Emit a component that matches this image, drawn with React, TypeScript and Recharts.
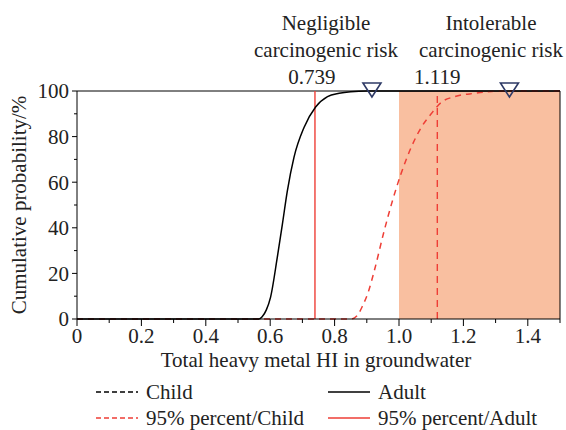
import React from 'react';
import { ComposedChart, Line, Scatter, XAxis, YAxis, ReferenceLine, ReferenceArea } from 'recharts';

// Adult cumulative curve (HI vs %)
const adultHI = [0, 0.5, 0.565, 0.575, 0.588, 0.601, 0.622, 0.638, 0.653, 0.674, 0.705, 0.741, 0.778, 0.814, 0.85, 0.9, 1.5];
const adultProb = [0, 0, 0, 1, 4, 9.5, 27, 41.7, 56, 71, 84, 93, 97.5, 99, 99.7, 100, 100];

// Child cumulative curve
const childHI = [0, 0.8, 0.85, 0.87, 0.887, 0.905, 0.923, 0.954, 0.98, 1.006, 1.037, 1.069, 1.1, 1.131, 1.172, 1.235, 1.287, 1.35, 1.5];
const childProb = [0, 0, 0, 1.5, 5.8, 12, 21, 38.7, 52, 63.6, 75, 84, 90, 95, 97.5, 99, 99.8, 100, 100];

const p95Adult = 0.739;
const p95Child = 1.119;
const markerHI = [0.916, 1.343];
const riskStart = 1.0;

const xTicks = [0, 0.1, 0.2, 0.3, 0.4, 0.5, 0.6, 0.7, 0.8, 0.9, 1.0, 1.1, 1.2, 1.3, 1.4, 1.5];
const xTickLabels = ['0', '', '0.2', '', '0.4', '', '0.6', '', '0.8', '', '1.0', '', '1.2', '', '1.4', ''];
const yTicks = [0, 10, 20, 30, 40, 50, 60, 70, 80, 90, 100];
const yTickLabels = ['0', '', '20', '', '40', '', '60', '', '80', '', '100'];

const legendItems = [
  { label: 'Child', color: '#000', dash: '5 3' },
  { label: 'Adult', color: '#000', dash: '' },
  { label: '95% percent/Child', color: '#ee3e36', dash: '5 3' },
  { label: '95% percent/Adult', color: '#ee3e36', dash: '' },
];

const adultData = adultHI.map((x, i) => ({ x, y: adultProb[i] }));
const childData = childHI.map((x, i) => ({ x, y: childProb[i] }));
const markerData = markerHI.map((x) => ({ x, y: 100 }));

const FONT = '"Liberation Serif", "Times New Roman", serif';
const RED = '#ee3e36';

const XTick = (props: any) => {
  const { x, y, index } = props;
  const label = xTickLabels[index];
  return (
    <g>
      <line x1={x} x2={x} y1={y} y2={y + (label ? 7 : 4)} stroke="#000" />
      {label && (
        <text x={x} y={y + 24} textAnchor="middle" fontSize={21} fontFamily={FONT} fill="#222">
          {label}
        </text>
      )}
    </g>
  );
};

const YTick = (props: any) => {
  const { x, y, index } = props;
  const label = yTickLabels[index];
  return (
    <g>
      <line x1={x - (label ? 5 : 3)} x2={x} y1={y} y2={y} stroke="#000" />
      {label && (
        <text x={x - 8} y={y} dy="0.35em" textAnchor="end" fontSize={21} fontFamily={FONT} fill="#222">
          {label}
        </text>
      )}
    </g>
  );
};

const Triangle = (props: any) => {
  const { cx, cy } = props;
  return (
    <path
      d={`M${cx - 9},${cy - 8} L${cx + 9},${cy - 8} L${cx},${cy + 6} Z`}
      fill="none"
      stroke="#2e3a66"
      strokeWidth={1.6}
    />
  );
};

export default function App() {
  return (
    <div style={{ position: 'absolute', left: 0, top: 0, width: 566, height: 430, background: '#fff' }}>
      <ComposedChart width={566} height={430} margin={{ top: 91, right: 6, bottom: 71, left: 17 }}>
        <ReferenceArea x1={riskStart} x2={1.5} y1={0} y2={100} fill="#f9bfa0" fillOpacity={1} stroke="none" />
        <XAxis
          dataKey="x"
          type="number"
          domain={[0, 1.5]}
          ticks={xTicks}
          interval={0}
          height={40}
          tickSize={0}
          tickMargin={0}
          tickLine={false}
          axisLine={{ stroke: '#000' }}
          tick={<XTick />}
        />
        <YAxis
          type="number"
          domain={[0, 100]}
          ticks={yTicks}
          interval={0}
          width={60}
          tickSize={0}
          tickMargin={0}
          tickLine={false}
          axisLine={{ stroke: '#000' }}
          tick={<YTick />}
        />
        <ReferenceLine y={100} stroke="#000" />
        <ReferenceLine x={1.5} stroke="#000" />
        <ReferenceLine
          x={p95Adult}
          stroke={RED}
          strokeWidth={1.4}
          label={{ value: String(p95Adult), position: 'top', offset: 7, fill: '#222', fontSize: 21, fontFamily: FONT, dx: -3 }}
        />
        <ReferenceLine
          x={p95Child}
          stroke={RED}
          strokeWidth={1.4}
          strokeDasharray="7 5"
          label={{ value: String(p95Child), position: 'top', offset: 7, fill: '#222', fontSize: 21, fontFamily: FONT }}
        />
        <Line data={childData} dataKey="y" type="monotone" stroke={RED} strokeWidth={1.5} strokeDasharray="6 5" dot={false} isAnimationActive={false} />
        <Line data={adultData} dataKey="y" type="monotone" stroke="#000" strokeWidth={1.5} dot={false} isAnimationActive={false} />
        <Scatter data={markerData} dataKey="y" shape={<Triangle />} isAnimationActive={false} />
      </ComposedChart>
      <svg width={566} height={430} style={{ position: 'absolute', left: 0, top: 0, pointerEvents: 'none' }} fontFamily={FONT} fontSize={21} fill="#222">
        <text x={326} y={30} textAnchor="middle">Negligible</text>
        <text x={326} y={57} textAnchor="middle">carcinogenic risk</text>
        <text x={491} y={30} textAnchor="middle">Intolerable</text>
        <text x={491} y={57} textAnchor="middle">carcinogenic risk</text>
        <text x={19} y={205} textAnchor="middle" dy="0.35em" transform="rotate(-90 19 205)">Cumulative probability/%</text>
        <text x={316} y={367} textAnchor="middle">Total heavy metal HI in groundwater</text>
        {legendItems.map((it, i) => {
          const lx = i % 2 === 0 ? 96 : 328;
          const ly = i < 2 ? 392 : 418;
          return (
            <g key={it.label}>
              <line x1={lx} x2={lx + 42} y1={ly} y2={ly} stroke={it.color} strokeWidth={1.5} strokeDasharray={it.dash || undefined} />
              <text x={lx + 50} y={ly + 7}>{it.label}</text>
            </g>
          );
        })}
      </svg>
    </div>
  );
}
